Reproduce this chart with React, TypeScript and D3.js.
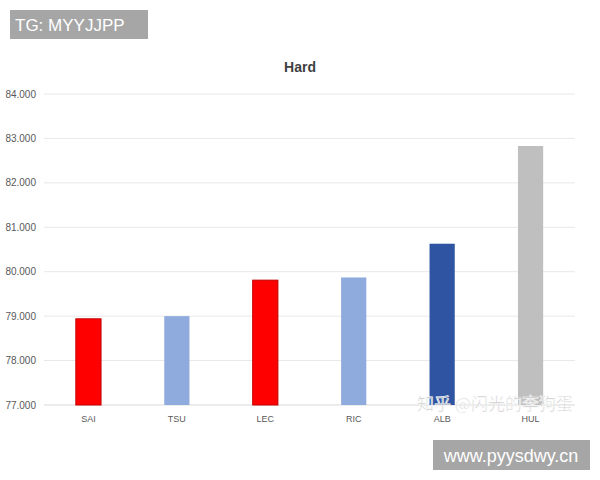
import React from "react";
import * as d3 from "d3";

const categories = ["SAI", "TSU", "LEC", "RIC", "ALB", "HUL"];
const values = [78.94, 79.0, 79.81, 79.87, 80.63, 82.83];
const barColors = ["#FF0000", "#8FAADC", "#FF0000", "#8FAADC", "#2F55A2", "#BFBFBF"];
const barStrokes = ["#C00000", "none", "#C00000", "none", "none", "none"];
const yTicks = [77, 78, 79, 80, 81, 82, 83, 84];
const title = "Hard";

const W = 600;
const H = 480;
const left = 44;
const right = 575;
const top = 94;
const bottom = 405;

export default function App() {
  const x = d3.scaleBand<string>().domain(categories).range([left, right]).paddingInner(0.715).paddingOuter(0.36);
  const y = d3.scaleLinear().domain([77, 84]).range([bottom, top]);
  const fmt = d3.format(".3f");
  return (
    <div style={{ position: "absolute", left: 0, top: 0 }}>
      <svg width={W} height={H} style={{ display: "block", background: "#fff" }}>
        <rect x={0} y={0} width={W} height={H} fill="#fff" />
        {yTicks.map((t) => (
          <g key={t}>
            <line x1={left} x2={right} y1={y(t)} y2={y(t)} stroke={t === 77 ? "#d9d9d9" : "#e8e8e8"} strokeWidth={1} />
            <text x={36} y={y(t)} dy="0.35em" textAnchor="end" fontFamily="Liberation Sans, Arial, sans-serif" fontSize={10} fill="#595959">
              {fmt(t)}
            </text>
          </g>
        ))}
        {categories.map((c, i) => (
          <g key={c}>
            <rect
              x={x(c)!}
              y={y(values[i])}
              width={x.bandwidth()}
              height={y(77) - y(values[i])}
              fill={barColors[i]}
              stroke={barStrokes[i]}
              strokeWidth={1}
            />
            <text x={x(c)! + x.bandwidth() / 2} y={422} textAnchor="middle" fontFamily="Liberation Sans, Arial, sans-serif" fontSize={9} fill="#595959">
              {c}
            </text>
          </g>
        ))}
        <text x={300} y={72} textAnchor="middle" fontFamily="Liberation Sans, Arial, sans-serif" fontSize={14} fontWeight="bold" fill="#404040">
          {title}
        </text>
        <rect x={10} y={10} width={138} height={29} fill="#a6a6a6" />
        <text x={15} y={31} fontFamily="Liberation Sans, Arial, sans-serif" fontSize={17} fill="#fff">
          TG: MYYJJPP
        </text>
        <text x={417} y={410} fontFamily="Noto Sans CJK SC, sans-serif" fontSize={17} fill="#bcbcbc" fillOpacity={0.85} stroke="#fff" strokeWidth={0.6}>
          知乎 @闪光的李狗蛋
        </text>
        <rect x={433} y={440} width={157} height={30} fill="#a6a6a6" />
        <text x={511} y={462} textAnchor="middle" fontFamily="Liberation Sans, Arial, sans-serif" fontSize={18} fill="#fff">
          www.pyysdwy.cn
        </text>
      </svg>
    </div>
  );
}
